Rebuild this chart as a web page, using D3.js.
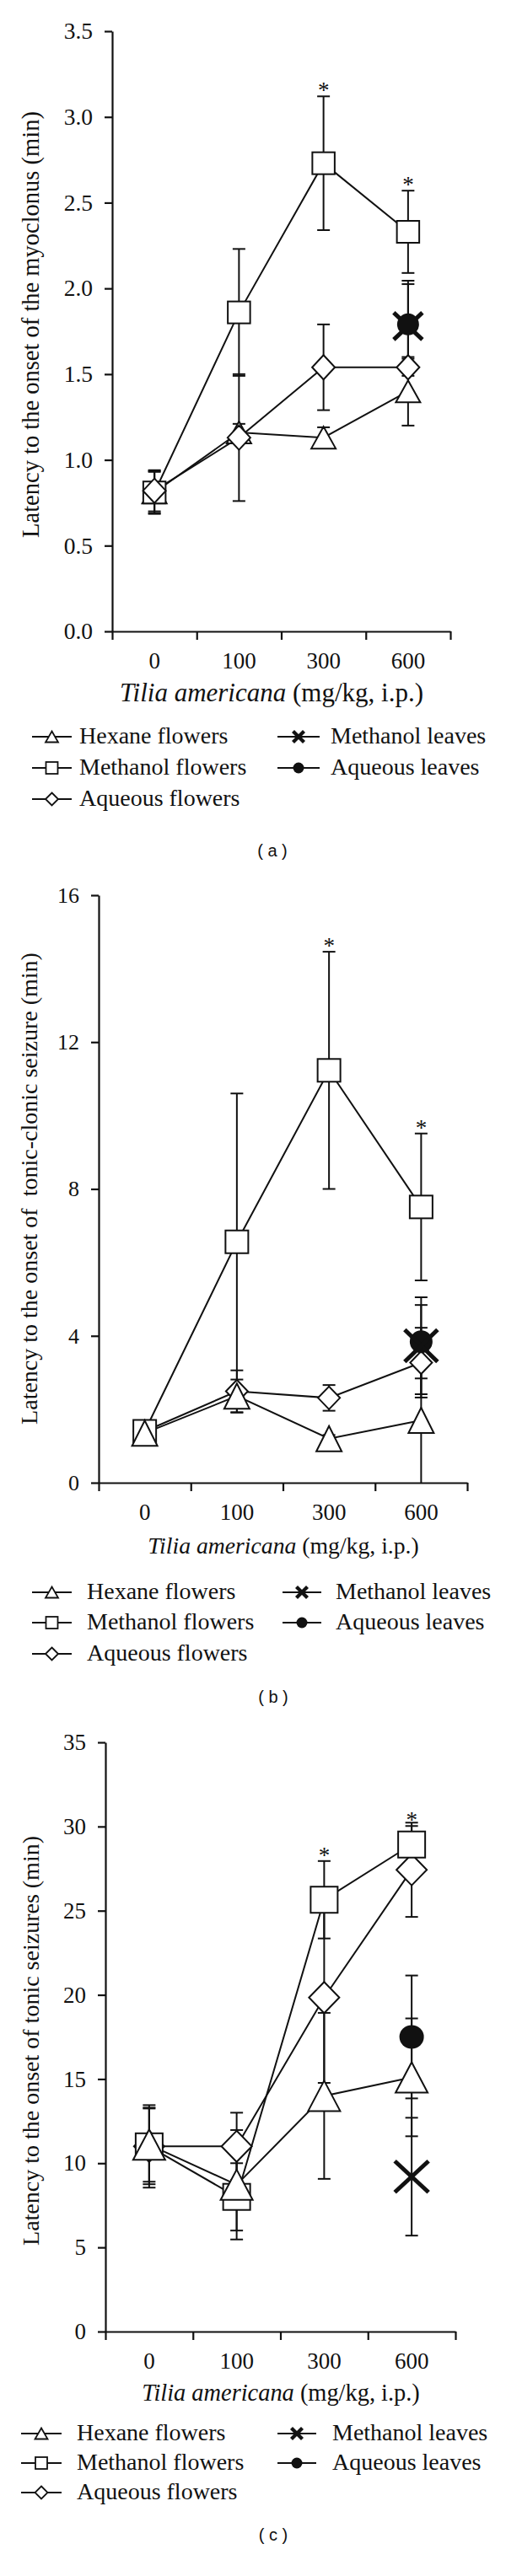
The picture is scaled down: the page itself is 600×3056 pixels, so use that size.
<!DOCTYPE html>
<html>
<head>
<meta charset="utf-8">
<script src="https://cdn.jsdelivr.net/npm/d3@7/dist/d3.min.js"></script>
<style>
  body { margin: 0; background: #fff; }
  svg text { font-family: "Liberation Serif", "Times New Roman", serif; fill: #111; }
</style>
</head>
<body>
<div id="chart"></div>
<script>
var W = 600, H = 3056;

var doses = ["0", "100", "300", "600"];
var names = {hex: "Hexane flowers", metF: "Methanol flowers", aqF: "Aqueous flowers",
             metL: "Methanol leaves", aqL: "Aqueous leaves"};
var shapes = {hex: "tri", metF: "sq", aqF: "dia", metL: "x", aqL: "circ"};

// (a) latency to myoclonus
var hexA  = [0.81, 1.16, 1.13, 1.40],   hexA_sd  = [0.12, 0.05, 0.06, 0.20];
var metA  = [0.81, 1.86, 2.73, 2.33],   metA_sd  = [0.125, 0.37, 0.39, 0.24];
var aqA   = [0.82, 1.13, 1.54, 1.54],   aqA_sd   = [0.12, 0.37, 0.25, 0.05];
var metLA = [null, null, null, 1.78],   metLA_sd = [null, null, null, 0.245];
var aqLA  = [null, null, null, 1.79],   aqLA_sd  = [null, null, null, 0.255];
var yTicksA = [0, 0.5, 1, 1.5, 2, 2.5, 3, 3.5];
var starsA = ["300", "600"];

// (b) latency to tonic-clonic seizure
var hexB  = [1.35, 2.36, 1.20, 1.70],   hexB_sd  = [0.10, 0.45, 0.10, 1.70];
var metB  = [1.40, 6.56, 11.23, 7.51],  metB_sd  = [0.10, 4.04, 3.23, 2.00];
var aqB   = [1.40, 2.49, 2.31, 3.27],   aqB_sd   = [0.10, 0.57, 0.35, 0.95];
var metLB = [null, null, null, 3.73],   metLB_sd = [null, null, null, 1.32];
var aqLB  = [null, null, null, 3.84],   aqLB_sd  = [null, null, null, 1.00];
var yTicksB = [0, 4, 8, 12, 16];
var starsB = ["300", "600"];

// (c) latency to tonic seizures
var hexC  = [11.1, 8.72, 14.0, 15.1],   hexC_sd  = [2.2, 3.25, 4.93, 3.5];
var metC  = [11.0, 8.0, 25.65, 28.93],  metC_sd  = [2.45, 2.0, 2.3, 1.1];
var aqC   = [11.0, 11.0, 19.84, 27.43], aqC_sd   = [2.25, 2.0, 5.07, 2.8];
var metLC = [null, null, null, 9.2],    metLC_sd = [null, null, null, 3.5];
var aqLC  = [null, null, null, 17.5],   aqLC_sd  = [null, null, null, 3.65];
var yTicksC = [0, 5, 10, 15, 20, 25, 30, 35];
var starsC = ["300", "600"];

var panels = [
  {label: "( a )", left: 133, right: 534, y0: 749, yTop: 37, yMax: 3.5, ticks: yTicksA, fmt: ".1f", yTickSize: 27.5,
   ylab: "Latency to the onset of the myoclonus (min)", ylabY: 385, ylabX: 46, ylabSize: 28.5,
   titleSize: 31, titleX: 322, titleY: 832,
   legY: [882, 919, 956], legL: [38, 85, 94], legR: [329, 379, 392], labelX: 323, labelY: 1016,
   size: {tri: [29, 26], sq: [26.5, 26], dia: [27, 29], circ: [26, 26], x: [34, 32]},
   order: ["hex", "metF", "aqF", "metL", "aqL"],
   data: {hex: [hexA, hexA_sd], metF: [metA, metA_sd], aqF: [aqA, aqA_sd], metL: [metLA, metLA_sd], aqL: [aqLA, aqLA_sd]},
   stars: starsA},
  {label: "( b )", left: 117, right: 554, y0: 1759, yTop: 1062, yMax: 16, ticks: yTicksB, fmt: "d", yTickSize: 26,
   ylab: "Latency to the onset of  tonic-clonic seizure (min)", ylabY: 1410, ylabX: 44, ylabSize: 28,
   titleSize: 27.7, titleX: 336, titleY: 1843,
   legY: [1897, 1933, 1970], legL: [38, 85, 103], legR: [335, 381, 398], labelX: 324, labelY: 2020,
   size: {tri: [30, 30], sq: [27, 27], dia: [26, 27], circ: [27, 27], x: [39, 38]},
   order: ["aqF", "metF", "hex", "aqL", "metL"],
   data: {hex: [hexB, hexB_sd], metF: [metB, metB_sd], aqF: [aqB, aqB_sd], metL: [metLB, metLB_sd], aqL: [aqLB, aqLB_sd]},
   stars: starsB},
  {label: "( c )", left: 125, right: 540, y0: 2766, yTop: 2067, yMax: 35, ticks: yTicksC, fmt: "d", yTickSize: 27,
   ylab: "Latency to the onset of tonic seizures (min)", ylabY: 2421, ylabX: 46, ylabSize: 28,
   titleSize: 28.4, titleX: 333, titleY: 2848,
   legY: [2895, 2930, 2965], legL: [25, 73, 91], legR: [329, 375, 394], labelX: 324, labelY: 3014,
   size: {tri: [38, 36], sq: [32, 31], dia: [36, 37], circ: [29, 28], x: [40, 37]},
   order: ["aqF", "metF", "hex", "aqL", "metL"],
   data: {hex: [hexC, hexC_sd], metF: [metC, metC_sd], aqF: [aqC, aqC_sd], metL: [metLC, metLC_sd], aqL: [aqLC, aqLC_sd]},
   stars: starsC}
];

var svg = d3.select("#chart").append("svg")
    .attr("width", W)
    .attr("height", H);

svg.append("rect").attr("width", W).attr("height", H).attr("fill", "#fff");

// one marker, centred on (cx, cy)
function marker(g, type, cx, cy, w, h, sw) {
  if (type == "sq") {
    g.append("rect").attr("x", cx - w / 2).attr("y", cy - h / 2).attr("width", w).attr("height", h)
      .attr("fill", "#fff").attr("stroke", "#111").attr("stroke-width", sw);
  } else if (type == "tri") {
    g.append("path").attr("d", "M" + cx + "," + (cy - h / 2) + "L" + (cx + w / 2) + "," + (cy + h / 2) + "L" + (cx - w / 2) + "," + (cy + h / 2) + "Z")
      .attr("fill", "#fff").attr("stroke", "#111").attr("stroke-width", sw);
  } else if (type == "dia") {
    g.append("path").attr("d", "M" + cx + "," + (cy - h / 2) + "L" + (cx + w / 2) + "," + cy + "L" + cx + "," + (cy + h / 2) + "L" + (cx - w / 2) + "," + cy + "Z")
      .attr("fill", "#fff").attr("stroke", "#111").attr("stroke-width", sw);
  } else if (type == "circ") {
    g.append("ellipse").attr("cx", cx).attr("cy", cy).attr("rx", w / 2).attr("ry", h / 2).attr("fill", "#111");
  } else if (type == "x") {
    var xs = g.append("g").attr("stroke", "#111").attr("stroke-width", sw * 2.5);
    xs.append("line").attr("x1", cx - w / 2).attr("y1", cy - h / 2).attr("x2", cx + w / 2).attr("y2", cy + h / 2);
    xs.append("line").attr("x1", cx - w / 2).attr("y1", cy + h / 2).attr("x2", cx + w / 2).attr("y2", cy - h / 2);
  }
}

panels.forEach(function(p) {
  var g = svg.append("g");

  var x = d3.scaleBand().domain(doses).range([p.left, p.right]);
  var y = d3.scaleLinear().domain([0, p.yMax]).range([p.y0, p.yTop]);
  var cx = function(d) { return x(d) + x.bandwidth() / 2; };

  // y axis
  var ya = g.append("g")
      .attr("transform", "translate(" + p.left + ",0)")
      .call(d3.axisLeft(y).tickValues(p.ticks).tickSize(9).tickSizeOuter(0).tickPadding(14).tickFormat(d3.format(p.fmt)));
  ya.selectAll("text").style("font-size", p.yTickSize + "px").style("font-family", "Liberation Serif");

  // x axis: ticks between dose groups
  var xe = d3.scaleLinear().domain([0, doses.length]).range([p.left, p.right]);
  g.append("g")
      .attr("transform", "translate(0," + p.y0 + ")")
      .call(d3.axisBottom(xe).ticks(doses.length).tickSize(10).tickSizeOuter(0).tickFormat(""));

  // x axis: dose labels centred on groups
  var xl = g.append("g")
      .attr("transform", "translate(0," + p.y0 + ")")
      .call(d3.axisBottom(x).tickSize(0).tickPadding(25));
  xl.select(".domain").remove();
  xl.selectAll("text").style("font-size", "27px").style("font-family", "Liberation Serif");

  g.selectAll(".domain, .tick line").attr("stroke", "#111").attr("stroke-width", 2.2);

  // axis titles
  g.append("text")
      .attr("transform", "translate(" + p.ylabX + "," + p.ylabY + ") rotate(-90)")
      .attr("text-anchor", "middle")
      .style("font-size", p.ylabSize + "px")
      .style("white-space", "pre")
      .text(p.ylab);

  var t = g.append("text")
      .attr("x", p.titleX).attr("y", p.titleY)
      .attr("text-anchor", "middle")
      .style("font-size", p.titleSize + "px");
  t.append("tspan").style("font-style", "italic").text("Tilia americana");
  t.append("tspan").text(" (mg/kg, i.p.)");

  // error bars
  var eb = g.append("g").attr("stroke", "#111").attr("stroke-width", 2);
  p.order.forEach(function(k) {
    var v = p.data[k][0], sd = p.data[k][1];
    doses.forEach(function(d, i) {
      if (v[i] == null) return;
      var hi = y(v[i] + sd[i]), lo = y(Math.max(0, v[i] - sd[i]));
      eb.append("line").attr("x1", cx(d)).attr("x2", cx(d)).attr("y1", hi).attr("y2", lo);
      eb.append("line").attr("x1", cx(d) - 7.5).attr("x2", cx(d) + 7.5).attr("y1", hi).attr("y2", hi);
      if (v[i] - sd[i] > 0)
        eb.append("line").attr("x1", cx(d) - 7.5).attr("x2", cx(d) + 7.5).attr("y1", lo).attr("y2", lo);
    });
  });

  // connecting lines
  var line = d3.line()
      .defined(function(d) { return d[1] != null; })
      .x(function(d) { return cx(d[0]); })
      .y(function(d) { return y(d[1]); });
  p.order.forEach(function(k) {
    var v = p.data[k][0];
    g.append("path")
        .datum(doses.map(function(d, i) { return [d, v[i]]; }))
        .attr("d", line)
        .attr("fill", "none")
        .attr("stroke", "#111")
        .attr("stroke-width", 2);
  });

  // markers
  p.order.forEach(function(k) {
    var v = p.data[k][0], s = p.size[shapes[k]];
    doses.forEach(function(d, i) {
      if (v[i] == null) return;
      marker(g, shapes[k], cx(d), y(v[i]), s[0], s[1], 2);
    });
  });

  // significance marks on methanol flowers
  var mv = p.data.metF[0], msd = p.data.metF[1];
  p.stars.forEach(function(d) {
    var i = doses.indexOf(d);
    g.append("text")
        .attr("x", cx(d)).attr("y", y(mv[i] + msd[i]) + 2)
        .attr("text-anchor", "middle")
        .style("font-size", "27px")
        .text("*");
  });

  // legend
  var cols = [["hex", "metF", "aqF"], ["metL", "aqL"]];
  cols.forEach(function(col, c) {
    var lx = c == 0 ? p.legL : p.legR;
    col.forEach(function(k, r) {
      var ly = p.legY[r] - 8;
      g.append("line").attr("x1", lx[0]).attr("x2", lx[1]).attr("y1", ly).attr("y2", ly)
          .attr("stroke", "#111").attr("stroke-width", 2);
      var ls = {tri: [15, 13], sq: [14, 14], dia: [15, 15], circ: [13, 13], x: [13, 13]}[shapes[k]];
      marker(g, shapes[k], (lx[0] + lx[1]) / 2, ly, ls[0], ls[1], shapes[k] == "x" ? 1.7 : 1.8);
      g.append("text").attr("x", lx[2]).attr("y", p.legY[r])
          .style("font-size", "28px")
          .text(names[k]);
    });
  });

  // panel label
  g.append("text")
      .attr("x", p.labelX).attr("y", p.labelY)
      .attr("text-anchor", "middle")
      .style("font-family", "Liberation Sans")
      .style("font-size", "20px")
      .style("white-space", "pre")
      .text(p.label);
});
</script>
</body>
</html>
